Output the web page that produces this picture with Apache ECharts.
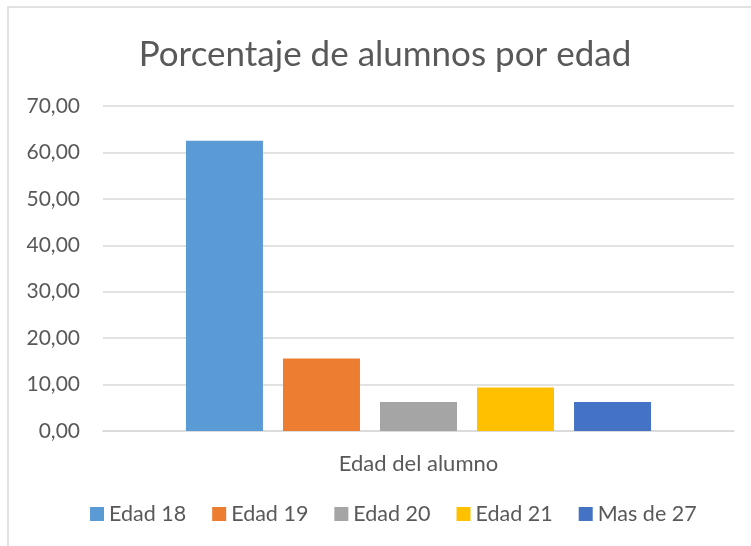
<!DOCTYPE html>
<html>
<head>
<meta charset="utf-8">
<script src="https://cdn.jsdelivr.net/npm/echarts@6/dist/echarts.min.js"></script>
<style>
  html, body { margin: 0; padding: 0; background: #fff; }
  #chart { width: 751px; height: 546px; }
</style>
</head>
<body>
<div id="chart"></div>
<script>
const categories = ["Edad del alumno"];
const seriesNames = ["Edad 18", "Edad 19", "Edad 20", "Edad 21", "Mas de 27"];
const seriesValues = [62.5, 15.63, 6.25, 9.38, 6.25];
const seriesColors = ["#5b9bd5", "#ed7d31", "#a5a5a5", "#ffc000", "#4472c4"];

const FONT = "Lato";
const chart = echarts.init(document.getElementById("chart"), null, { renderer: "canvas" });

const option = {
  animation: false,
  textStyle: { fontFamily: FONT, color: "#595959" },
  title: {
    text: "Porcentaje de alumnos por edad",
    left: 380,
    top: 32,
    textAlign: "center",
    textStyle: { fontFamily: FONT, fontSize: 35, fontWeight: "normal", color: "#595959" }
  },
  graphic: [{
    type: "rect",
    shape: { x: 8, y: 7, width: 800, height: 600 },
    style: { fill: "none", stroke: "#d9d9d9", lineWidth: 1.5 },
    silent: true,
    z: -1
  }],
  legend: {
    bottom: 16,
    left: 85,
    itemWidth: 14,
    itemHeight: 14,
    itemGap: 26,
    icon: "rect",
    textStyle: { fontFamily: FONT, fontSize: 21.5, color: "#595959" },
    data: seriesNames
  },
  grid: { left: 103, right: 17, top: 106, bottom: 115 },
  xAxis: {
    type: "category",
    data: categories,
    axisLine: { lineStyle: { color: "#d9d9d9", width: 1.5 } },
    axisTick: { show: false },
    axisLabel: { fontFamily: FONT, fontSize: 22, color: "#595959", margin: 22 }
  },
  yAxis: {
    type: "value",
    min: 0,
    max: 70,
    interval: 10,
    axisLine: { show: false },
    axisTick: { show: false },
    splitLine: { lineStyle: { color: "#d9d9d9", width: 1.5 } },
    axisLabel: {
      fontFamily: FONT, fontSize: 21, color: "#595959", margin: 23,
      formatter: v => v.toFixed(2).replace(".", ",")
    }
  },
  series: seriesNames.map((name, i) => ({
    name: name,
    type: "bar",
    barWidth: 77,
    barGap: "26%",
    itemStyle: { color: seriesColors[i] },
    data: [seriesValues[i]]
  }))
};

chart.setOption(option);
</script>
</body>
</html>
